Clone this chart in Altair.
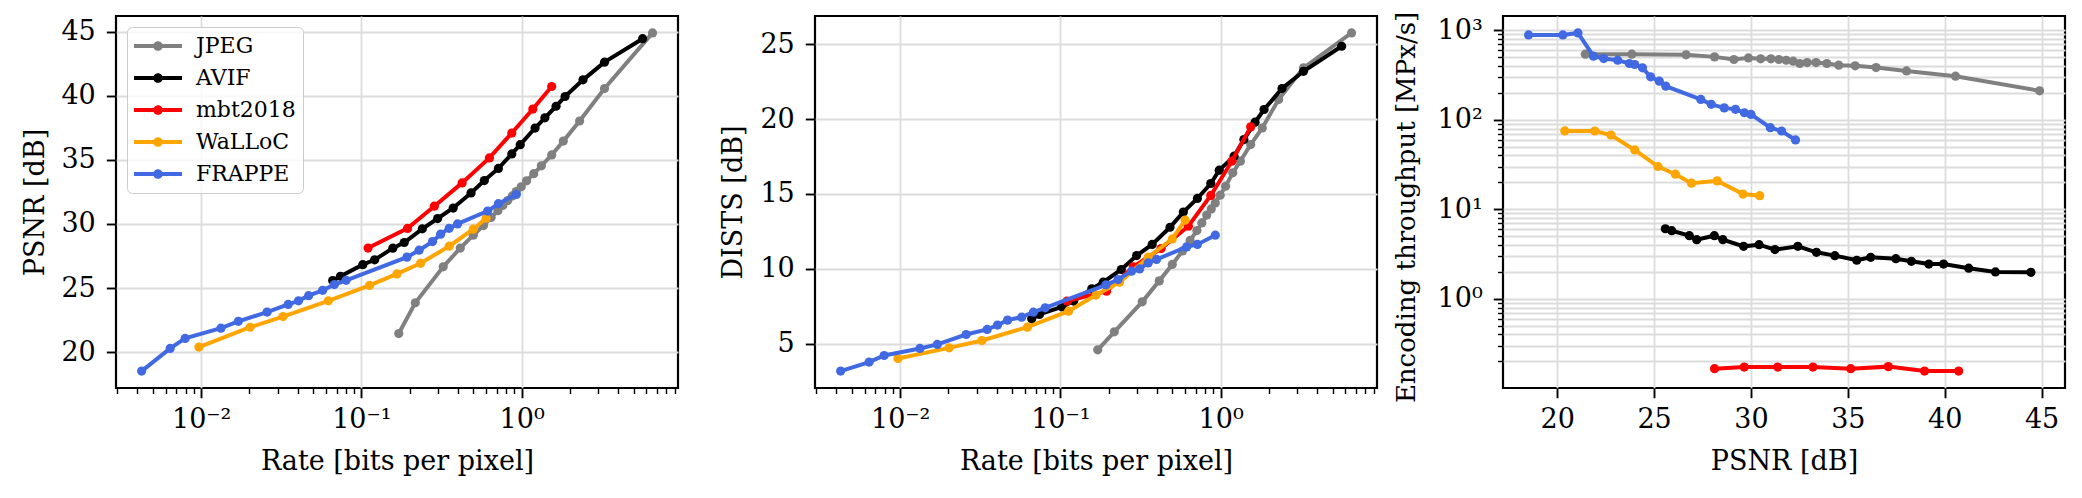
import altair as alt
import pandas as pd

FONT = "DejaVu Serif"

codecs = ["JPEG", "AVIF", "mbt2018", "WaLLoC", "FRAPPE"]
colors = ["#808080", "#000000", "#ff0000", "#ffa500", "#4169e1"]

# rate [bpp], PSNR [dB], DISTS [dB], encoding throughput [MPx/s]
jpeg_rate = [0.171, 0.217, 0.324, 0.414, 0.499, 0.578, 0.645, 0.711, 0.763, 0.819, 0.874,
             0.926, 0.994, 1.074, 1.19, 1.328, 1.54, 1.82, 2.30, 3.29, 6.56]
jpeg_psnr = [21.45, 23.85, 26.65, 28.12, 29.12, 29.87, 30.5, 31.03, 31.44, 31.82, 32.18,
             32.52, 32.9, 33.36, 33.92, 34.53, 35.38, 36.46, 38.03, 40.56, 44.9]
jpeg_dists = [4.6, 5.8, 7.8, 9.2, 10.3, 11.2, 11.9, 12.56, 13.07, 13.59, 14.0,
              14.4, 14.92, 15.52, 16.41, 17.19, 18.3, 19.41, 21.3, 23.42, 25.75]
jpeg_mpxs = [541, 541, 532, 505, 472, 492, 480, 480, 472, 463, 452,
             426, 436, 436, 426, 408, 401, 384, 352, 307, 211]

avif_rate = [0.0662, 0.074, 0.102, 0.121, 0.157, 0.185, 0.240, 0.299, 0.374, 0.483, 0.585,
             0.716, 0.868, 0.98, 1.213, 1.397, 1.64, 1.867, 2.416, 3.29, 5.69]
avif_psnr = [25.58, 25.91, 26.82, 27.2, 28.11, 28.55, 29.62, 30.42, 31.24, 32.42, 33.38,
             34.33, 35.46, 36.18, 37.48, 38.28, 39.18, 39.94, 41.24, 42.62, 44.45]
avif_dists = [6.67, 6.96, 7.47, 7.85, 8.67, 9.11, 9.96, 10.89, 11.63, 12.78, 13.79,
              14.70, 15.70, 16.59, 17.52, 18.63, 19.79, 20.64, 22.04, 23.19, 24.86]
avif_mpxs = [6.07, 5.77, 5.08, 4.58, 5.08, 4.58, 3.86, 4.03, 3.55, 3.86, 3.31,
             3.04, 2.70, 2.91, 2.81, 2.63, 2.45, 2.45, 2.20, 2.0, 1.98]

mbt_rate = [0.110, 0.194, 0.285, 0.425, 0.629, 0.868, 1.175, 1.54]
mbt_psnr = [28.12, 29.65, 31.38, 33.2, 35.15, 37.09, 38.96, 40.72]
mbt_dists = [7.85, 8.51, 10.14, 11.36, 12.85, 14.9, 17.19, 19.48]
mbt_mpxs = [0.166, 0.173, 0.173, 0.173, 0.166, 0.175, 0.156, 0.156]

walloc_rate = [0.00968, 0.0202, 0.0324, 0.0622, 0.1124, 0.1667, 0.234, 0.353, 0.499, 0.60]
walloc_psnr = [20.39, 21.94, 22.77, 24.0, 25.2, 26.1, 26.93, 28.26, 29.59, 30.45]
walloc_dists = [4.02, 4.73, 5.22, 6.11, 7.18, 8.25, 9.11, 10.78, 12.0, 13.25]
walloc_mpxs = [75.1, 75.0, 67.7, 46.1, 30.1, 24.7, 19.6, 20.8, 14.8, 14.2]

frappe_rate = [0.00425, 0.0064, 0.00794, 0.01328, 0.01706, 0.0258, 0.0349, 0.0405, 0.0468,
               0.0573, 0.0678, 0.0803, 0.1925, 0.229, 0.278, 0.312, 0.353, 0.398, 0.614,
               0.716, 0.926]
frappe_psnr = [18.52, 20.29, 21.07, 21.87, 22.4, 23.12, 23.72, 24.0, 24.4, 24.82, 25.27,
               25.6, 27.41, 27.95, 28.62, 29.2, 29.66, 30.0, 31.0, 31.58, 32.3]
frappe_dists = [3.18, 3.78, 4.22, 4.69, 4.96, 5.62, 5.96, 6.25, 6.58, 6.78, 7.11, 7.40,
                8.94, 9.29, 9.85, 10.0, 10.4, 10.63, 11.47, 11.63, 12.25]
frappe_mpxs = [888, 888, 935, 514, 484, 464, 426, 415, 381, 302, 270, 238, 169, 149, 136,
               131, 120, 115, 81.7, 75, 59.6]

series = {
    "JPEG": (jpeg_rate, jpeg_psnr, jpeg_dists, jpeg_mpxs),
    "AVIF": (avif_rate, avif_psnr, avif_dists, avif_mpxs),
    "mbt2018": (mbt_rate, mbt_psnr, mbt_dists, mbt_mpxs),
    "WaLLoC": (walloc_rate, walloc_psnr, walloc_dists, walloc_mpxs),
    "FRAPPE": (frappe_rate, frappe_psnr, frappe_dists, frappe_mpxs),
}

rows = []
for name, (rate, psnr, dists, mpxs) in series.items():
    for i in range(len(rate)):
        rows.append({"codec": name, "idx": i, "rate": rate[i], "psnr": psnr[i],
                     "dists": dists[i], "mpxs": mpxs[i]})
df = pd.DataFrame(rows)

# tick positions of the log axes (matplotlib style: decades + 2..9 minors)
rate_major = [0.01, 0.1, 1.0]
rate_minor = [m * d for d in (0.001, 0.01, 0.1, 1.0) for m in range(2, 10) if m * d > 0.00294]
mpxs_major = [1, 10, 100, 1000]
mpxs_minor = [m * d for d in (0.1, 1, 10, 100) for m in range(2, 10)]

W, H = 562, 372
color_scale = alt.Scale(domain=codecs, range=colors)

# legend symbol: short line with a dot in the middle
legend_path = ("M-1,-0.085L1,-0.085L1,0.085L-1,0.085Z"
               "M0.2,0A0.2,0.2,0,1,1,-0.2,0A0.2,0.2,0,1,1,0.2,0Z")
legend = alt.Legend(title=None, orient="top-left", offset=11, symbolType=legend_path,
                    symbolSize=2304, symbolStrokeWidth=0, symbolOpacity=1,
                    labelFont=FONT, labelFontSize=22, labelColor="black", labelOffset=14,
                    fillColor="rgba(255,255,255,0.8)", strokeColor="#cccccc",
                    cornerRadius=5, padding=7, clipHeight=24, rowPadding=8)


def minor_axis(values, orient, grid=False):
    return alt.Axis(values=values, orient=orient, labels=False, title="", grid=grid,
                    tickSize=5.5, tickWidth=1.4)


def panel(xf, yf, xscale, yscale, xaxis, yaxis, minor_x, minor_y, leg):
    layers = []
    for name, col in zip(codecs, colors):
        base = alt.Chart(df).transform_filter(alt.datum.codec == name).encode(
            x=alt.X(xf, scale=xscale, axis=xaxis),
            y=alt.Y(yf, scale=yscale, axis=yaxis),
            order=alt.Order("idx:Q"),
        )
        layers.append(base.mark_line(color=col, strokeWidth=4))
        layers.append(base.mark_circle(size=85, opacity=1).encode(
            color=alt.Color("codec:N", scale=color_scale, legend=leg)))
    main = alt.layer(*layers)
    # invisible layer that only carries the minor tick axis
    minor = alt.Chart(df).mark_circle(opacity=0).encode(
        x=alt.X(xf, scale=xscale, axis=minor_x) if minor_x else alt.X(xf, scale=xscale),
        y=alt.Y(yf, scale=yscale, axis=minor_y) if minor_y else alt.Y(yf, scale=yscale),
    )
    if minor_x:
        out = alt.layer(main, minor).resolve_axis(x="independent")
    else:
        out = alt.layer(main, minor).resolve_axis(y="independent")
    return out.properties(width=W, height=H)


rate_scale = alt.Scale(type="log", domain=[0.00294, 9.46], nice=False)
rate_axis = alt.Axis(values=rate_major, orient="bottom", title="Rate [bits per pixel]",
                     labelExpr="datum.value < 0.05 ? '10⁻²' : datum.value < 0.5 ? '10⁻¹' : '10⁰'")

p1 = panel("rate:Q", "psnr:Q", rate_scale,
           alt.Scale(domain=[17.2, 46.22], nice=False, zero=False), rate_axis,
           alt.Axis(values=[20, 25, 30, 35, 40, 45], title="PSNR [dB]", format="d",
                    titleX=-67),
           minor_axis(rate_minor, "bottom"), None, legend)

p2 = panel("rate:Q", "dists:Q", rate_scale,
           alt.Scale(domain=[2.05, 26.88], nice=False, zero=False), rate_axis,
           alt.Axis(values=[5, 10, 15, 20, 25], title="DISTS [dB]", format="d",
                    titleX=-68),
           minor_axis(rate_minor, "bottom"), None, None)

p3 = panel("psnr:Q", "mpxs:Q",
           alt.Scale(domain=[17.2, 46.21], nice=False, zero=False),
           alt.Scale(type="log", domain=[0.101, 1445], nice=False),
           alt.Axis(values=[20, 25, 30, 35, 40, 45], title="PSNR [dB]", format="d"),
           alt.Axis(values=mpxs_major, orient="left", title="Encoding throughput [MPx/s]",
                    titleX=-84, titleY=191, titleFontSize=26,
                    labelExpr="datum.value < 5 ? '10⁰' : datum.value < 50 ? '10¹' : datum.value < 500 ? '10²' : '10³'"),
           None, minor_axis(mpxs_minor, "left", grid=True), None)

left = alt.hconcat(p1, p2, spacing=37).resolve_scale(
    color="independent").resolve_legend(color="independent")
chart = alt.hconcat(left, p3, spacing=12).resolve_scale(
    color="independent").resolve_legend(color="independent").properties(
    padding={"left": 11, "top": 2, "right": 5, "bottom": 5}
).configure_view(
    stroke="black", strokeWidth=2.2
).configure_axis(
    labelFont=FONT, titleFont=FONT, labelFontSize=27, titleFontSize=27,
    labelColor="black", titleColor="black", titleFontWeight="normal",
    tickColor="black", tickWidth=1.9, tickSize=9.7, domain=False,
    gridColor="#dcdcdc", gridWidth=1.8,
).configure_axisX(
    labelPadding=9, titlePadding=16
).configure_axisY(
    labelPadding=11, titlePadding=13
)

chart.save("out.html", embed_options={"renderer": "svg", "actions": False})
